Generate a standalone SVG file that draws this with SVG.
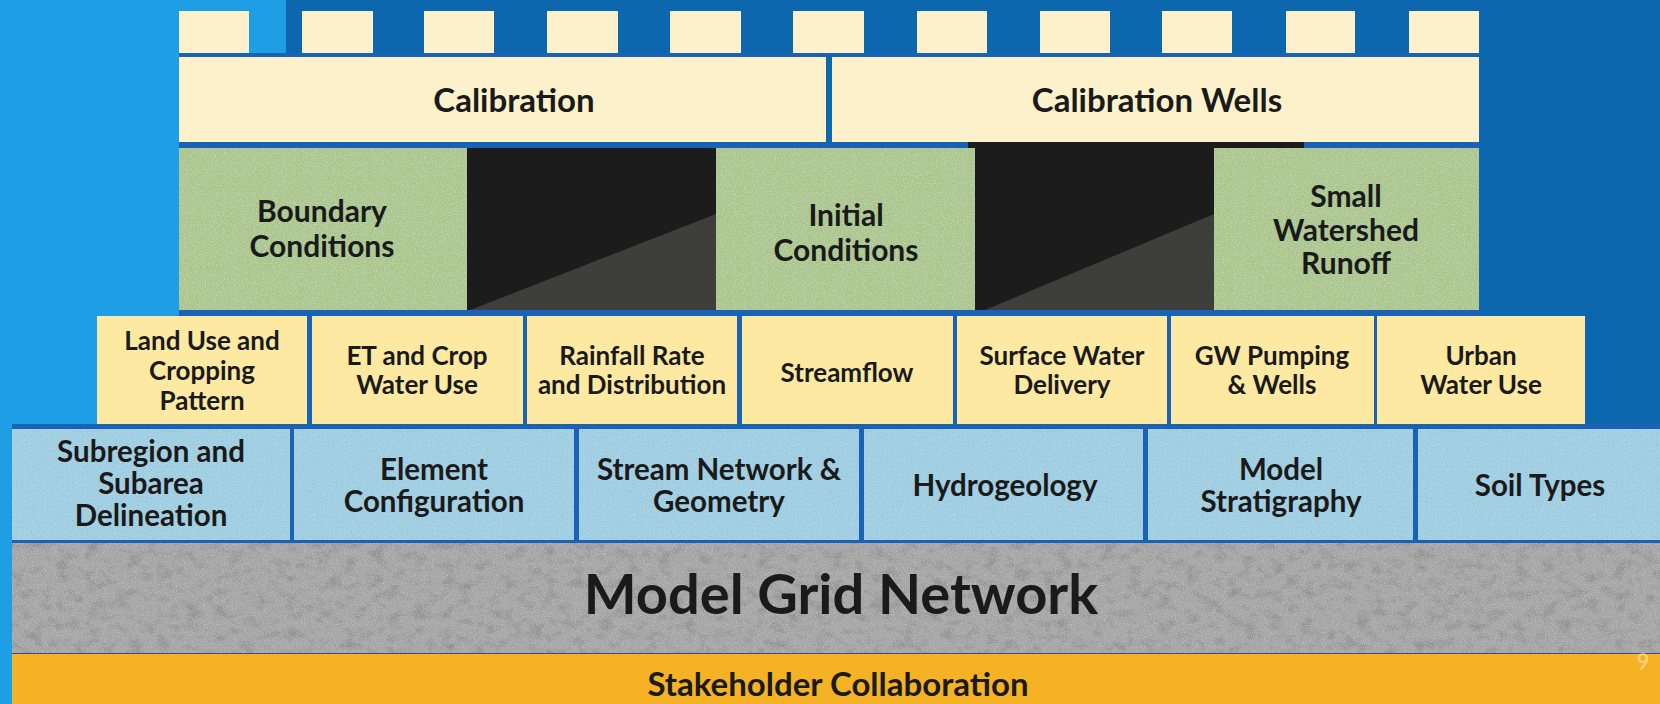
<svg xmlns="http://www.w3.org/2000/svg" width="1660" height="704" viewBox="0 0 1660 704">
<defs>
<style>
text { font-family: Lato, "Open Sans", "Liberation Sans", sans-serif; font-weight: 700; fill: #1a1a1a; text-anchor: middle; }
.cream { fill: #fcf1cb; }
.green { fill: #a9c48c; }
.yellow { fill: #fde9a2; }
.sky { fill: #a6d2e5; }
.blk { fill: #1c1c1c; }
.shade { fill: #3e3f3b; }
.gap { fill: #1a62b6; }
.t-cal { font-size: 33px; }
.t-grn { font-size: 30px; }
.t-yel { font-size: 26px; }
.t-sky { font-size: 29.5px; }
</style>
<filter id="fine" x="0" y="0" width="1" height="1">
<feTurbulence type="fractalNoise" baseFrequency="0.9" numOctaves="1" seed="4" result="n"/>
<feColorMatrix in="n" type="matrix" values="0 0 0 0 1  0 0 0 0 1  0 0 0 0 1  1.4 0 0 0 -0.62" result="w"/>
<feComposite in="w" in2="SourceGraphic" operator="in"/>
</filter>
<filter id="speck" x="0" y="0" width="1" height="1">
<feTurbulence type="fractalNoise" baseFrequency="0.8" numOctaves="1" seed="9" result="n"/>
<feColorMatrix in="n" type="matrix" values="0 0 0 0 0.2  0 0 0 0 0.4  0 0 0 0 0.5  1.4 0 0 0 -0.66" result="w"/>
<feComposite in="w" in2="SourceGraphic" operator="in"/>
</filter>
<filter id="granite" x="0" y="0" width="1" height="1">
<feTurbulence type="fractalNoise" baseFrequency="0.07 0.1" numOctaves="3" seed="7" result="n"/>
<feColorMatrix in="n" type="matrix" values="0 0 0 0 0.28  0 0 0 0 0.28  0 0 0 0 0.28  2.8 0 0 0 -1.3" result="d"/>
<feComposite in="d" in2="SourceGraphic" operator="in"/>
</filter>
</defs>

<!-- background -->
<rect x="0" y="0" width="1660" height="704" fill="#1e9ee5"/>
<rect x="286" y="0" width="1374" height="704" fill="#0c67ae"/>

<!-- gap strips behind rows -->
<rect class="gap" x="179" y="53" width="1300" height="4"/>
<rect class="gap" x="179" y="142" width="1300" height="6"/>
<rect x="968" y="142" width="336" height="6" fill="#1b1b1b"/>
<rect class="gap" x="179" y="310" width="1300" height="6"/>
<rect class="gap" x="97" y="316" width="1488" height="108"/>
<rect class="gap" x="12" y="424" width="1648" height="119"/>
<rect x="12" y="652" width="1648" height="2" fill="#3a4a8a"/>

<g id="blocks">
<rect class="cream" x="179" y="11" width="70" height="42"/>
<rect class="cream" x="302" y="11" width="71" height="42"/>
<rect class="cream" x="424" y="11" width="70" height="42"/>
<rect class="cream" x="547" y="11" width="71" height="42"/>
<rect class="cream" x="670" y="11" width="71" height="42"/>
<rect class="cream" x="793" y="11" width="71" height="42"/>
<rect class="cream" x="917" y="11" width="70" height="42"/>
<rect class="cream" x="1040" y="11" width="70" height="42"/>
<rect class="cream" x="1162" y="11" width="70" height="42"/>
<rect class="cream" x="1286" y="11" width="69" height="42"/>
<rect class="cream" x="1409" y="11" width="70" height="42"/>
</g>

<g id="calibration">
<rect class="cream" x="179" y="57" width="647" height="85"/>
<text class="t-cal" x="514" y="112">Calibration</text>
</g>
<g id="calibration-wells">
<rect class="cream" x="832" y="57" width="647" height="85"/>
<text class="t-cal" x="1157" y="112">Calibration Wells</text>
</g>

<g id="boundary-conditions">
<rect class="green" x="179" y="148" width="288" height="162"/>
<rect x="179" y="148" width="288" height="162" fill="#000" filter="url(#fine)" opacity="0.7"/>
<text class="t-grn" x="322" y="222">Boundary</text>
<text class="t-grn" x="322" y="257">Conditions</text>
</g>
<g id="dark-block-1">
<rect class="blk" x="467" y="148" width="249" height="162"/>
<polygon class="shade" points="470,310 716,214 716,310"/>
</g>
<g id="initial-conditions">
<rect class="green" x="716" y="148" width="259" height="162"/>
<rect x="716" y="148" width="259" height="162" fill="#000" filter="url(#fine)" opacity="0.7"/>
<text class="t-grn" x="846" y="226">Initial</text>
<text class="t-grn" x="846" y="261">Conditions</text>
</g>
<g id="dark-block-2">
<rect class="blk" x="975" y="143" width="239" height="167"/>
<polygon class="shade" points="985,310 1214,214 1214,310"/>
</g>
<g id="small-watershed-runoff">
<rect class="green" x="1214" y="148" width="265" height="162"/>
<rect x="1214" y="148" width="265" height="162" fill="#000" filter="url(#fine)" opacity="0.7"/>
<text class="t-grn" x="1346" y="207">Small</text>
<text class="t-grn" x="1346" y="241">Watershed</text>
<text class="t-grn" x="1346" y="274">Runoff</text>
</g>

<g id="land-use">
<rect class="yellow" x="97" y="316" width="210" height="108"/>
<text class="t-yel" x="202" y="350">Land Use and</text>
<text class="t-yel" x="202" y="380">Cropping</text>
<text class="t-yel" x="202" y="410">Pattern</text>
</g>
<g id="et-crop">
<rect class="yellow" x="312" y="316" width="211" height="108"/>
<text class="t-yel" x="417" y="365">ET and Crop</text>
<text class="t-yel" x="417" y="394">Water Use</text>
</g>
<g id="rainfall">
<rect class="yellow" x="527" y="316" width="210" height="108"/>
<text class="t-yel" x="632" y="365">Rainfall Rate</text>
<text class="t-yel" x="632" y="394">and Distribution</text>
</g>
<g id="streamflow">
<rect class="yellow" x="742" y="316" width="211" height="108"/>
<text class="t-yel" x="847" y="382">Streamflow</text>
</g>
<g id="surface-water">
<rect class="yellow" x="957" y="316" width="210" height="108"/>
<text class="t-yel" x="1062" y="365">Surface Water</text>
<text class="t-yel" x="1062" y="394">Delivery</text>
</g>
<g id="gw-pumping">
<rect class="yellow" x="1171" y="316" width="203" height="108"/>
<text class="t-yel" x="1272" y="365">GW Pumping</text>
<text class="t-yel" x="1272" y="394">&amp; Wells</text>
</g>
<g id="urban-water">
<rect class="yellow" x="1377" y="316" width="208" height="108"/>
<text class="t-yel" x="1481" y="365">Urban</text>
<text class="t-yel" x="1481" y="394">Water Use</text>
</g>

<g id="subregion">
<rect class="sky" x="12" y="429" width="278" height="111"/>
<rect x="12" y="429" width="278" height="111" fill="#000" filter="url(#speck)"/>
<text class="t-sky" x="151" y="462">Subregion and</text>
<text class="t-sky" x="151" y="494">Subarea</text>
<text class="t-sky" x="151" y="526">Delineation</text>
</g>
<g id="element-config">
<rect class="sky" x="294" y="429" width="280" height="111"/>
<rect x="294" y="429" width="280" height="111" fill="#000" filter="url(#speck)"/>
<text class="t-sky" x="434" y="480">Element</text>
<text class="t-sky" x="434" y="512">Configuration</text>
</g>
<g id="stream-network">
<rect class="sky" x="579" y="429" width="280" height="111"/>
<rect x="579" y="429" width="280" height="111" fill="#000" filter="url(#speck)"/>
<text class="t-sky" x="719" y="480">Stream Network &amp;</text>
<text class="t-sky" x="719" y="512">Geometry</text>
</g>
<g id="hydrogeology">
<rect class="sky" x="864" y="429" width="279" height="111"/>
<rect x="864" y="429" width="279" height="111" fill="#000" filter="url(#speck)"/>
<text class="t-sky" x="1005" y="496">Hydrogeology</text>
</g>
<g id="model-stratigraphy">
<rect class="sky" x="1148" y="429" width="265" height="111"/>
<rect x="1148" y="429" width="265" height="111" fill="#000" filter="url(#speck)"/>
<text class="t-sky" x="1281" y="480">Model</text>
<text class="t-sky" x="1281" y="512">Stratigraphy</text>
</g>
<g id="soil-types">
<rect class="sky" x="1418" y="429" width="242" height="111"/>
<rect x="1418" y="429" width="242" height="111" fill="#000" filter="url(#speck)"/>
<text class="t-sky" x="1540" y="496">Soil Types</text>
</g>

<g id="model-grid-network">
<rect x="12" y="543" width="1648" height="110" fill="#a4a4a4"/>
<rect x="12" y="543" width="1648" height="110" fill="#000" filter="url(#granite)"/>
<rect x="12" y="543" width="1648" height="110" fill="#000" filter="url(#fine)" opacity="0.6"/>
<text x="841" y="614" style="font-size:56px">Model Grid Network</text>
</g>

<g id="stakeholder-collaboration">
<rect x="12" y="654" width="1648" height="50" fill="#f4b224"/>
<text x="838" y="696" style="font-size:33px">Stakeholder Collaboration</text>
</g>

<g id="connectors"></g>

<text x="1643" y="670" style="font-size:22px;fill:#f7e9b8;opacity:0.55">9</text>
</svg>
